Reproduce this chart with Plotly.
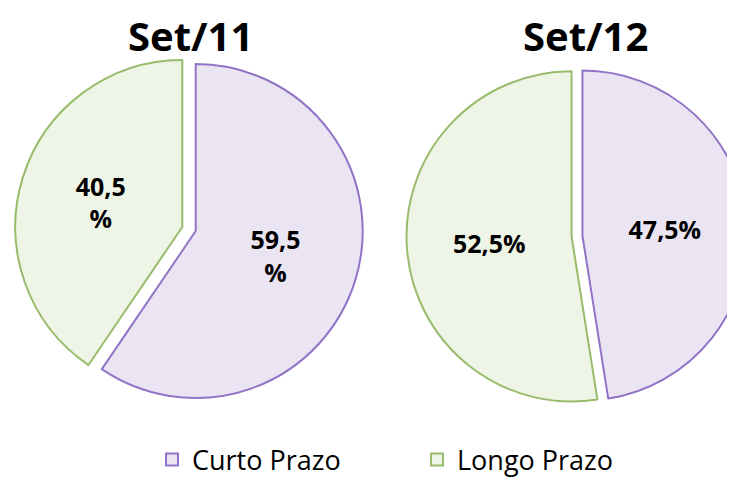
import plotly.graph_objects as go

# data
periods = ["Set/11", "Set/12"]
categories = ["Curto Prazo", "Longo Prazo"]
curto = [59.5, 47.5]
longo = [40.5, 52.5]
# the 2011 labels wrap onto two lines in the original
wrap_label = [True, False]

FILL = ["#ebe5f3", "#eff5e6"]
EDGE = ["#9373c6", "#98bb6c"]
FONT = "Open Sans"

# the page body adds an 8px offset, so positions below are shifted back by it
W, H = 760, 481


def pct(v, wrap):
    s = f"{v:.1f}".replace(".", ",")
    return s + ("<br>%" if wrap else "%")


# pie placement (pixels): centre x, centre y, box size
boxes = [(181, 221, 348), (569, 228, 341)]
pulls = [0.042, 0.033]

fig = go.Figure()
for i, name in enumerate(periods):
    cx, cy, size = boxes[i]
    vals = [curto[i], longo[i]]
    fig.add_trace(go.Pie(
        labels=categories,
        values=vals,
        text=[pct(v, wrap_label[i]) for v in vals],
        textinfo="text",
        textposition="inside",
        insidetextorientation="horizontal",
        textfont=dict(family=FONT, size=25, color="black", weight="bold"),
        marker=dict(colors=FILL, line=dict(color=EDGE, width=2)),
        pull=[pulls[i], pulls[i]],
        sort=False,
        direction="clockwise",
        rotation=0,
        hoverinfo="label+percent",
        domain=dict(
            x=[(cx - size / 2) / W, (cx + size / 2) / W],
            y=[1 - (cy + size / 2) / H, 1 - (cy - size / 2) / H],
        ),
        showlegend=(i == 0),
    ))

title_x = [182, 577]
annotations = [
    dict(text=f"<b>{p}</b>", x=title_x[i] / W, y=1 - 27 / H,
         xref="paper", yref="paper", xanchor="center", yanchor="middle",
         showarrow=False, font=dict(family=FONT, size=40, color="black"))
    for i, p in enumerate(periods)
]

fig.update_layout(
    width=W, height=H,
    margin=dict(l=0, r=0, t=0, b=0, autoexpand=False),
    paper_bgcolor="white", plot_bgcolor="white",
    annotations=annotations,
    legend=dict(
        orientation="h",
        x=144 / W, xanchor="left",
        y=1 - 452 / H, yanchor="middle",
        entrywidth=220,
        font=dict(family=FONT, size=27, color="black"),
        traceorder="normal",
    ),
)

fig.write_html("out.html")
